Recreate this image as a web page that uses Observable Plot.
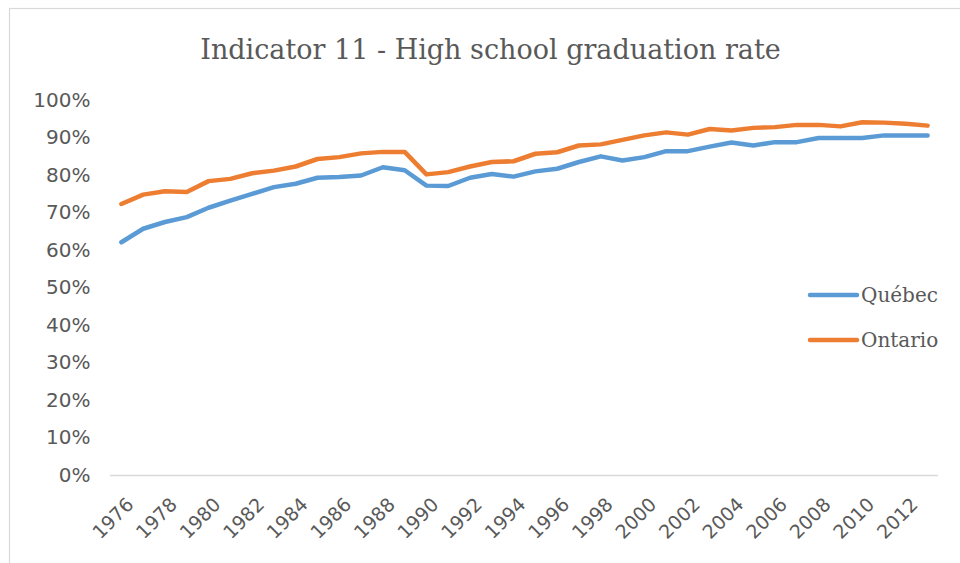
<!DOCTYPE html>
<html>
<head>
<meta charset="utf-8">
<script src="https://cdn.jsdelivr.net/npm/d3@7"></script>
<script src="https://cdn.jsdelivr.net/npm/@observablehq/plot@0.6"></script>
<style>
  html, body { margin: 0; padding: 0; background: #fff; }
  #chart { width: 960px; height: 563px; overflow: hidden; }
</style>
</head>
<body>
<div id="chart"></div>
<script>
const title = "Indicator 11 - High school graduation rate";
const years = [1976,1977,1978,1979,1980,1981,1982,1983,1984,1985,1986,1987,1988,1989,1990,1991,1992,1993,1994,1995,1996,1997,1998,1999,2000,2001,2002,2003,2004,2005,2006,2007,2008,2009,2010,2011,2012,2013];
const quebec = [62.2,65.8,67.6,68.9,71.4,73.3,75.1,76.9,77.8,79.4,79.6,80.0,82.2,81.4,77.3,77.2,79.4,80.4,79.7,81.1,81.8,83.6,85.1,84.0,84.9,86.5,86.5,87.7,88.8,88.0,88.9,88.9,90.0,90.0,90.0,90.7,90.7,90.7];
const ontario = [72.4,74.9,75.8,75.6,78.5,79.1,80.6,81.3,82.4,84.4,84.9,85.9,86.3,86.3,80.3,80.9,82.4,83.6,83.8,85.8,86.2,88.0,88.3,89.5,90.7,91.5,90.9,92.4,92.0,92.7,92.9,93.5,93.5,93.1,94.2,94.1,93.8,93.3];
const seriesNames = ["Québec", "Ontario"];
const seriesColors = ["#5B9BD5", "#ED7D31"];
const yTicks = [0,10,20,30,40,50,60,70,80,90,100];
const xTickLabels = years.filter(y => y % 2 === 0 && y <= 2012);

const rows = [];
years.forEach((yr, i) => {
  rows.push({year: yr, value: quebec[i], series: seriesNames[0]});
  rows.push({year: yr, value: ontario[i], series: seriesNames[1]});
});

const grey = "#595959";
const chart = Plot.plot({
  width: 960,
  height: 563,
  marginLeft: 110,
  marginRight: 22,
  marginTop: 100,
  marginBottom: 88,
  style: {fontFamily: "'DejaVu Sans', sans-serif", background: "#fff", overflow: "visible"},
  x: {type: "point", domain: years, padding: 0.5, round: false},
  y: {domain: [0, 100]},
  color: {domain: seriesNames, range: seriesColors},
  marks: [
    Plot.ruleY([0], {stroke: "#d9d9d9", strokeWidth: 1.3}),
    Plot.axisY({ticks: yTicks, tickFormat: d => d + "%", tickSize: 0, tickPadding: 20, fontSize: 20, fill: grey, label: null}),
    Plot.axisX({ticks: xTickLabels, tickFormat: d => String(d), tickRotate: -45, tickSize: 0, tickPadding: 26, dx: 9, fontSize: 19, fill: grey, label: null}),
    Plot.line(rows, {x: "year", y: "value", z: "series", stroke: "series", strokeWidth: 4.5, strokeLinecap: "round", strokeLinejoin: "round"}),
    Plot.text([title], {frameAnchor: "top-left", lineAnchor: "middle", dx: 380, dy: -50, fontSize: 27, fill: grey, fontFamily: "'DejaVu Serif', serif", textAnchor: "middle"})
  ]
});
document.getElementById("chart").appendChild(chart);

// chart border and legend
const svg = d3.select(chart);
svg.insert("rect", ":first-child")
  .attr("x", 9.5).attr("y", 8.5).attr("width", 980).attr("height", 600)
  .attr("fill", "none").attr("stroke", "#d9d9d9").attr("stroke-width", 1.2);
const leg = svg.append("g").attr("text-anchor", "start");
seriesNames.forEach((name, i) => {
  const y = 295 + i * 45;
  leg.append("line").attr("x1", 810).attr("x2", 857).attr("y1", y).attr("y2", y)
    .attr("stroke", seriesColors[i]).attr("stroke-width", 4.5).attr("stroke-linecap", "round");
  leg.append("text").attr("x", 861).attr("y", y).attr("dy", "0.35em")
    .attr("fill", grey).attr("font-size", 20).attr("font-family", "'DejaVu Serif', serif")
    .text(name);
});
</script>
</body>
</html>
